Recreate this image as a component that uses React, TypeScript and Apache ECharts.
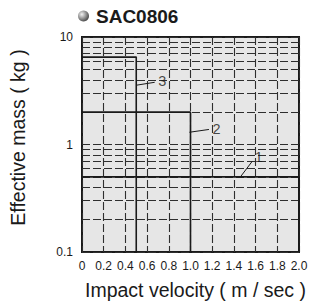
import React, { useEffect, useRef } from "react";
import * as echarts from "echarts";

const title = "SAC0806";
const xName = "Impact velocity ( m / sec )";
const yName = "Effective mass ( kg )";
const xTicks = [0, 0.2, 0.4, 0.6, 0.8, 1.0, 1.2, 1.4, 1.6, 1.8, 2.0];
const yMinorGrid = [0.2, 0.3, 0.4, 0.5, 0.6, 0.7, 0.8, 0.9, 2, 3, 4, 5, 6, 7, 8, 9];

// limit curves: [velocity, mass]
const curve1 = [[0, 0.5], [2.0, 0.5], [2.0, 0.1]];
const curve2 = [[0, 2], [1.0, 2], [1.0, 0.1]];
const curve3 = [[0, 6.5], [0.5, 6.5], [0.5, 0.1]];

// callout leaders and labels
const leader1 = [[1.46, 0.5], [1.57, 0.7]];
const leader2 = [[0.99, 1.3], [1.17, 1.38]];
const leader3 = [[0.5, 3.56], [0.67, 3.79]];
const calloutLabels = [
  { name: "1", value: [1.63, 0.76] },
  { name: "2", value: [1.24, 1.38] },
  { name: "3", value: [0.74, 3.9] },
];

const FONT = "'Liberation Sans', Arial, Helvetica, sans-serif";

export default function App() {
  const ref = useRef<HTMLDivElement>(null);
  useEffect(() => {
    if (!ref.current) return;
    const chart = echarts.init(ref.current, null, { renderer: "svg" });
    const curveStyle = { color: "#1a1a1a", width: 1.6 };
    const leaderStyle = { color: "#1a1a1a", width: 1 };
    const gridStyle = { color: "#2e2e2e", width: 1.1, type: [8, 3] };
    const mkLine = (data: number[][], style: any) => ({
      type: "line",
      data,
      showSymbol: false,
      symbol: "none",
      silent: true,
      lineStyle: style,
      z: 5,
    });
    chart.setOption({
      animation: false,
      backgroundColor: "#ffffff",
      textStyle: { fontFamily: FONT },
      grid: {
        left: 77,
        top: 37,
        width: 222,
        height: 221,
        show: true,
        backgroundColor: "#e6e6e6",
        borderColor: "#1a1a1a",
        borderWidth: 2,
        z: 0,
      },
      graphic: [
        {
          type: "circle",
          shape: { cx: 83.5, cy: 16, r: 5.5 },
          style: {
            fill: new echarts.graphic.RadialGradient(0.35, 0.35, 0.75, [
              { offset: 0, color: "#f2f2f2" },
              { offset: 1, color: "#3a3a3a" },
            ]),
          },
        },
        {
          type: "text",
          x: 96,
          y: 16,
          style: {
            text: title,
            fontFamily: FONT,
            fontWeight: "bold",
            fontSize: 19,
            fill: "#1a1a1a",
            verticalAlign: "middle",
          },
        },
      ],
      xAxis: {
        type: "value",
        min: 0,
        max: 2,
        interval: 0.2,
        name: xName,
        nameLocation: "middle",
        nameGap: 28,
        nameTextStyle: {
          fontSize: 19.5,
          color: "#1a1a1a",
          fontFamily: FONT,
          padding: [0, 0, 0, 10],
        },
        axisLine: { show: false },
        axisTick: { show: false },
        axisLabel: {
          margin: 8,
          fontSize: 12,
          color: "#1a1a1a",
          fontFamily: FONT,
          showMaxLabel: true,
          formatter: (v: number) => (v === 0 ? "0" : v.toFixed(1)),
        },
        splitLine: { show: true, lineStyle: gridStyle },
      },
      yAxis: {
        type: "log",
        logBase: 10,
        min: 0.1,
        max: 10,
        name: yName,
        nameLocation: "middle",
        nameRotate: 90,
        nameGap: 54,
        nameTextStyle: {
          fontSize: 19.5,
          color: "#1a1a1a",
          fontFamily: FONT,
          padding: [0, 0, 0, 14],
        },
        axisLine: { show: false },
        axisTick: { show: false },
        axisLabel: {
          margin: 9,
          fontSize: 12,
          color: "#1a1a1a",
          fontFamily: FONT,
          padding: [0, 0, 9, 0],
          formatter: (v: number) => String(v),
        },
        splitLine: { show: true, lineStyle: gridStyle },
      },
      series: [
        {
          type: "line",
          data: [],
          silent: true,
          markLine: {
            silent: true,
            symbol: "none",
            label: { show: false },
            lineStyle: gridStyle,
            data: yMinorGrid.map((v) => ({ yAxis: v })),
          },
          z: 1,
        },
        mkLine(curve1, curveStyle),
        mkLine(curve2, curveStyle),
        mkLine(curve3, curveStyle),
        mkLine(leader1, leaderStyle),
        mkLine(leader2, leaderStyle),
        mkLine(leader3, leaderStyle),
        {
          type: "scatter",
          symbolSize: 0,
          silent: true,
          data: calloutLabels,
          label: {
            show: true,
            position: "inside",
            formatter: (p: any) => p.name,
            fontSize: 14.5,
            color: "#1a1a1a",
            fontFamily: FONT,
          },
          z: 6,
        },
      ],
    });
    return () => chart.dispose();
  }, []);
  return (
    <div
      ref={ref}
      style={{ position: "fixed", left: 0, top: 0, width: 313, height: 305 }}
    />
  );
}
